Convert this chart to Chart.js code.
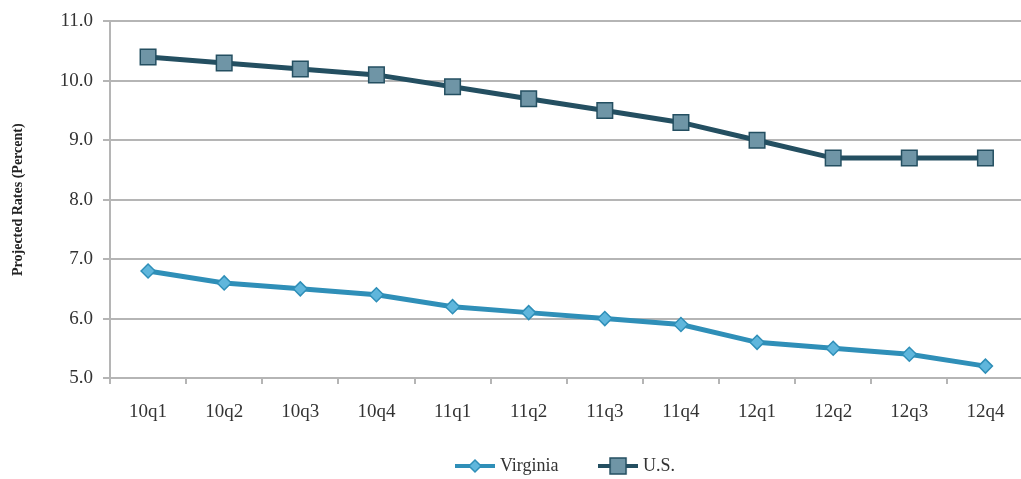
<!DOCTYPE html>
<html>
<head>
<meta charset="utf-8">
<script src="https://cdn.jsdelivr.net/npm/chart.js@4/dist/chart.umd.min.js"></script>
<style>
  html, body { margin: 0; padding: 0; background: #fff; overflow: hidden; }
  #wrap { width: 1036px; height: 479px; }
</style>
</head>
<body>
<div id="wrap"><canvas id="rates" width="1036" height="479"></canvas></div>
<script>
  const quarters = ["10q1", "10q2", "10q3", "10q4", "11q1", "11q2", "11q3", "11q4", "12q1", "12q2", "12q3", "12q4"];
  const virginia = [6.8, 6.6, 6.5, 6.4, 6.2, 6.1, 6.0, 5.9, 5.6, 5.5, 5.4, 5.2];
  const us = [10.4, 10.3, 10.2, 10.1, 9.9, 9.7, 9.5, 9.3, 9.0, 8.7, 8.7, 8.7];

  const vaLine = "#2f8fb8", vaPoint = "#5fb6dc";
  const usLine = "#244f61", usPoint = "#6f95a6";
  const serif = "'Liberation Serif', 'DejaVu Serif', serif";

  // little legend swatch: line with the marker on it
  function swatch(line, fill, shape) {
    const c = document.createElement("canvas");
    c.width = 40; c.height = 18;
    const g = c.getContext("2d");
    g.strokeStyle = line; g.lineWidth = 4;
    g.beginPath(); g.moveTo(0, 9); g.lineTo(40, 9); g.stroke();
    g.fillStyle = fill; g.strokeStyle = line; g.lineWidth = 1.5;
    g.beginPath();
    if (shape === "diamond") {
      g.moveTo(20, 3); g.lineTo(26, 9); g.lineTo(20, 15); g.lineTo(14, 9); g.closePath();
    } else {
      g.rect(12, 1, 16, 16);
    }
    g.fill(); g.stroke();
    return c;
  }
  const swatches = [swatch(vaLine, vaPoint, "diamond"), swatch(usLine, usPoint, "square")];

  // nudge the legend a bit right and down, like the original
  const legendNudge = {
    id: "legendNudge",
    afterLayout(chart) {
      const l = chart.legend;
      l.left += 50; l.right += 50;
      l.top += 6; l.bottom += 6;
    }
  };

  new Chart(document.getElementById("rates"), {
    type: "line",
    data: {
      labels: quarters,
      datasets: [{
        label: "Virginia",
        data: virginia,
        borderColor: vaLine,
        backgroundColor: vaPoint,
        borderWidth: 5,
        pointStyle: "rectRot",
        pointRadius: 7,
        pointBorderWidth: 1.5,
        pointBorderColor: vaLine,
        pointBackgroundColor: vaPoint,
        tension: 0
      }, {
        label: "U.S.",
        data: us,
        borderColor: usLine,
        backgroundColor: usPoint,
        borderWidth: 5,
        pointStyle: "rect",
        pointRadius: 11,
        pointBorderWidth: 1.5,
        pointBorderColor: usLine,
        pointBackgroundColor: usPoint,
        tension: 0
      }]
    },
    plugins: [legendNudge],
    options: {
      responsive: false,
      animation: false,
      layout: { padding: { top: 15, right: 2, left: 0, bottom: 0 } },
      plugins: {
        tooltip: { enabled: false },
        legend: {
          position: "bottom",
          labels: {
            usePointStyle: true,
            pointStyleWidth: 32,
            boxHeight: 18,
            padding: 12,
            color: "#333",
            font: { family: serif, size: 18 },
            generateLabels: chart => chart.data.datasets.map((d, i) => ({
              text: i === 0 ? d.label + "       " : d.label,
              pointStyle: swatches[i],
              fillStyle: d.backgroundColor,
              strokeStyle: d.borderColor,
              lineWidth: 0,
              datasetIndex: i,
              fontColor: "#333"
            }))
          }
        }
      },
      scales: {
        x: {
          offset: true,
          grid: { offset: true, drawOnChartArea: false, drawTicks: true, tickLength: 6, color: "#b5b5b5", lineWidth: 2 },
          border: { color: "#b5b5b5", width: 2 },
          ticks: { color: "#333", font: { family: serif, size: 19 }, padding: 17, maxRotation: 0 },
          afterFit: s => { s.height = 61; }
        },
        y: {
          min: 5, max: 11,
          ticks: { stepSize: 1, color: "#333", font: { family: serif, size: 19 }, padding: 10, callback: v => v.toFixed(1) },
          grid: { color: "#b5b5b5", lineWidth: 2, tickLength: 7 },
          border: { color: "#b5b5b5", width: 2 },
          title: { display: true, text: "Projected Rates (Percent)", color: "#222", font: { family: serif, size: 14, weight: "bold" }, padding: { top: 10, bottom: 12 } },
          afterFit: s => { s.width = 110; }
        }
      }
    }
  });
</script>
</body>
</html>
